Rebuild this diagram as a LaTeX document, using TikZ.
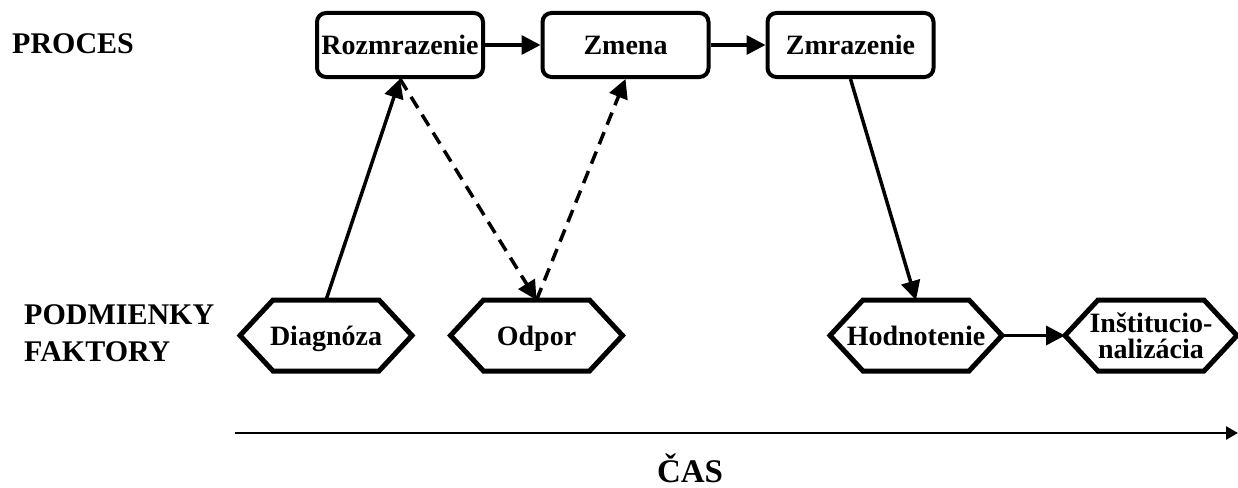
\documentclass[tikz,border=0pt]{standalone}
\usepackage{fontspec}
\setmainfont{Liberation Serif}
\usetikzlibrary{arrows.meta}

\begin{document}
\begin{tikzpicture}[x=1pt,y=-1pt]
\tikzstyle{block} = [rectangle, draw, line width=4pt, rounded corners=9pt,
minimum width=166pt, minimum height=64pt, inner sep=2pt, text centered,
text height=19pt, text depth=0pt, font=\bfseries\fontsize{28}{26}\selectfont]
\tikzstyle{factor} = [rectangle, minimum width=172pt, minimum height=71pt,
inner sep=0pt, outer sep=0pt, align=center,
font=\bfseries\fontsize{28}{26}\selectfont]
\tikzstyle{oneline} = [text height=19pt, text depth=0pt]
\tikzstyle{hexline} = [draw, line width=5pt]
\tikzstyle{rowlabel} = [anchor=west, inner sep=0pt, align=left,
font=\bfseries\fontsize{30}{37}\selectfont]
\tikzstyle{line} = [draw, line width=3.5pt, -{Triangle[length=19pt,width=19pt]}]
\tikzstyle{dashline} = [line, dash pattern=on 13pt off 8pt]
\useasboundingbox (0,0) rectangle (1238,487);
% row labels
\node [rowlabel] (proces) at (12,43.5) {PROCES};
\node [rowlabel] (podm) at (24,333.5) {PODMIENKY\\FAKTORY};
% process
\node [block] (rozm) at (400,45) {Rozmrazenie};
\node [block] (zmena) at (625.5,45) {Zmena};
\node [block] (zmraz) at (850.5,45) {Zmrazenie};
% factors
\node [factor, oneline] (diag) at (326,335.5) {Diagnóza};
\node [factor, oneline] (odpor) at (536.5,335.5) {Odpor};
\node [factor, oneline] (hodn) at (916,335.5) {Hodnotenie};
\node [factor] (inst) at (1151,335.5) {Inštitucio-\\nalizácia};
\foreach \f in {diag,odpor,hodn,inst}
  \path [hexline] ([xshift=33pt]\f.north west) -- ([xshift=-33pt]\f.north east)
    -- (\f.east) -- ([xshift=-33pt]\f.south east)
    -- ([xshift=33pt]\f.south west) -- (\f.west) -- cycle;
% time
\coordinate (t0) at (235,433);
\coordinate (t1) at (1238,433);
\node [font=\bfseries\fontsize{33}{36}\selectfont] (cas) at (690,468) {ČAS};

\path [line] (rozm) -- (zmena);
\path [line] (zmena) -- (zmraz);
\path [line] (diag.north) -- (rozm.south);
\path [dashline] (rozm.south) -- (odpor.north);
\path [dashline] (odpor.north) -- (zmena.south);
\path [line] (zmraz.south) -- (hodn.north);
\path [line] (hodn) -- (inst);
\path [draw, line width=2.5pt, -{Triangle[length=12pt,width=13pt]}] (t0) -- (t1);
\end{tikzpicture}
\end{document}
